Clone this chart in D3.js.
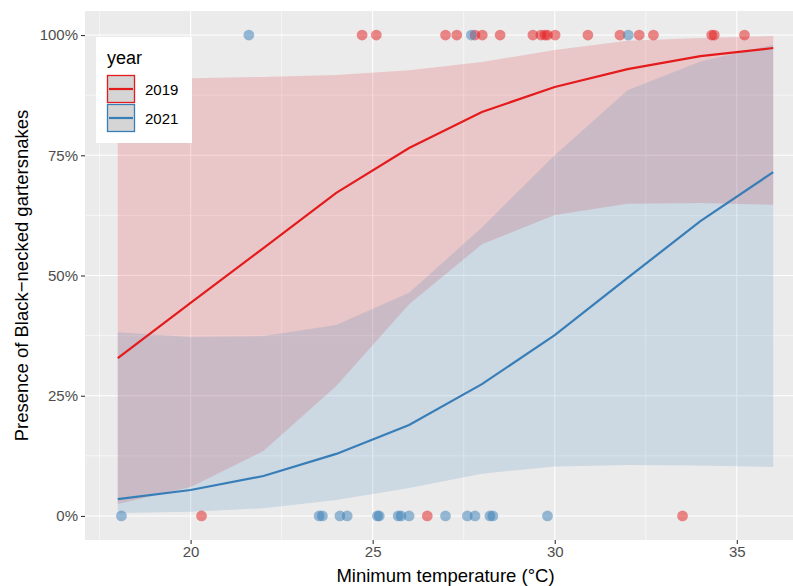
<!DOCTYPE html>
<html>
<head>
<meta charset="utf-8">
<script src="https://cdn.jsdelivr.net/npm/d3@7"></script>
<style>
  html, body { margin: 0; padding: 0; background: #fff; }
  svg { display: block; font-family: "Liberation Sans", Arial, sans-serif; }
</style>
</head>
<body>
<svg id="chart" width="793" height="586"></svg>
<script>
// Fitted curves (probability of presence) at each minimum temperature
const temps = [18, 20, 22, 24, 26, 28, 30, 32, 34, 36];
const fit2019 = [0.328, 0.443, 0.557, 0.672, 0.765, 0.840, 0.892, 0.929, 0.956, 0.973];
const lo2019  = [0.025, 0.060, 0.135, 0.270, 0.440, 0.565, 0.626, 0.649, 0.651, 0.647];
const hi2019  = [0.910, 0.910, 0.913, 0.917, 0.927, 0.944, 0.969, 0.988, 0.994, 0.998];
const fit2021 = [0.035, 0.054, 0.083, 0.129, 0.189, 0.274, 0.376, 0.495, 0.613, 0.715];
const lo2021  = [0.006, 0.009, 0.016, 0.033, 0.058, 0.088, 0.103, 0.106, 0.105, 0.102];
const hi2021  = [0.382, 0.372, 0.374, 0.397, 0.464, 0.600, 0.750, 0.885, 0.945, 0.980];

// Observed surveys: temperature and presence (1) / absence (0)
const obs2019Temp = [24.71, 25.10, 27.00, 27.31, 27.81, 28.01, 28.50, 29.40, 29.62, 29.73, 29.80, 30.01, 30.91, 31.79, 32.32, 32.71, 34.31, 34.38, 35.21, 20.30, 26.50, 33.51];
const obs2019Pres = [1, 1, 1, 1, 1, 1, 1, 1, 1, 1, 1, 1, 1, 1, 1, 1, 1, 1, 1, 0, 0, 0];
const obs2021Temp = [21.60, 27.71, 32.02, 18.10, 23.53, 23.62, 24.10, 24.30, 25.13, 25.18, 25.70, 25.78, 26.00, 27.00, 27.60, 27.81, 28.22, 28.30, 29.80];
const obs2021Pres = [1, 1, 1, 0, 0, 0, 0, 0, 0, 0, 0, 0, 0, 0, 0, 0, 0, 0, 0];

const years = ["2019", "2021"];
const colors = { "2019": "#E41A1C", "2021": "#377EB8" };
const xTicks = [20, 25, 30, 35];
const xMinor = [17.5, 22.5, 27.5, 32.5];
const yTicks = [0, 0.25, 0.5, 0.75, 1];
const yMinor = [0.125, 0.375, 0.625, 0.875];

const svg = d3.select("#chart");
const panel = { left: 85, top: 11, right: 806, bottom: 540 };

const x = d3.scaleLinear().domain([17.1, 36.9]).range([panel.left, panel.right]);
const y = d3.scaleLinear().domain([-0.05, 1.05]).range([panel.bottom, panel.top]);

// panel background
svg.append("rect")
  .attr("x", panel.left).attr("y", panel.top)
  .attr("width", panel.right - panel.left).attr("height", panel.bottom - panel.top)
  .attr("fill", "#EBEBEB");

const grid = svg.append("g");
grid.selectAll("line.ymin").data(yMinor).join("line")
  .attr("x1", panel.left).attr("x2", panel.right)
  .attr("y1", d => y(d)).attr("y2", d => y(d))
  .attr("stroke", "#fff").attr("stroke-width", 0.55);
grid.selectAll("line.xmin").data(xMinor).join("line")
  .attr("y1", panel.top).attr("y2", panel.bottom)
  .attr("x1", d => x(d)).attr("x2", d => x(d))
  .attr("stroke", "#fff").attr("stroke-width", 0.55);
grid.selectAll("line.ymaj").data(yTicks).join("line")
  .attr("x1", panel.left).attr("x2", panel.right)
  .attr("y1", d => y(d)).attr("y2", d => y(d))
  .attr("stroke", "#fff").attr("stroke-width", 1.1);
grid.selectAll("line.xmaj").data(xTicks).join("line")
  .attr("y1", panel.top).attr("y2", panel.bottom)
  .attr("x1", d => x(d)).attr("x2", d => x(d))
  .attr("stroke", "#fff").attr("stroke-width", 1.1);

const series = {
  "2019": { fit: fit2019, lo: lo2019, hi: hi2019, t: obs2019Temp, p: obs2019Pres },
  "2021": { fit: fit2021, lo: lo2021, hi: hi2021, t: obs2021Temp, p: obs2021Pres }
};

const area = d3.area()
  .x(d => x(d.t)).y0(d => y(d.lo)).y1(d => y(d.hi));
const line = d3.line().x(d => x(d.t)).y(d => y(d.v));

// observation points
years.forEach(yr => {
  const s = series[yr];
  const pts = s.t.map((t, i) => ({ t, p: s.p[i] }));
  svg.append("g").selectAll("circle").data(pts).join("circle")
    .attr("cx", d => x(d.t)).attr("cy", d => y(d.p)).attr("r", 5.4)
    .attr("fill", colors[yr]).attr("fill-opacity", 0.5);
});

// confidence ribbons
years.forEach(yr => {
  const s = series[yr];
  const rows = temps.map((t, i) => ({ t, lo: s.lo[i], hi: s.hi[i] }));
  svg.append("path").datum(rows)
    .attr("d", area)
    .attr("fill", colors[yr]).attr("fill-opacity", 0.17);
});

// fitted lines
years.forEach(yr => {
  const s = series[yr];
  const rows = temps.map((t, i) => ({ t, v: s.fit[i] }));
  svg.append("path").datum(rows)
    .attr("d", line)
    .attr("fill", "none").attr("stroke", colors[yr]).attr("stroke-width", 2.2);
});

// axes
const xAxis = svg.append("g")
  .attr("transform", `translate(0,${panel.bottom})`)
  .call(d3.axisBottom(x).tickValues(xTicks).tickSize(4).tickPadding(2));
const yAxis = svg.append("g")
  .attr("transform", `translate(${panel.left},0)`)
  .call(d3.axisLeft(y).tickValues(yTicks).tickSize(4).tickPadding(3)
    .tickFormat(d => Math.round(d * 100) + "%"));
[xAxis, yAxis].forEach(g => {
  g.select(".domain").remove();
  g.selectAll(".tick line").attr("stroke", "#333").attr("stroke-width", 1.1);
  g.selectAll(".tick text").attr("fill", "#4D4D4D")
    .style("font-size", "15px").style("font-family", "Liberation Sans, Arial, sans-serif");
});

// axis titles
svg.append("text")
  .attr("x", (panel.left + panel.right) / 2).attr("y", 582)
  .attr("text-anchor", "middle").attr("fill", "#000")
  .style("font-size", "18.5px")
  .text("Minimum temperature (°C)");
svg.append("text")
  .attr("transform", `translate(28,${(panel.top + panel.bottom) / 2}) rotate(-90)`)
  .attr("text-anchor", "middle").attr("fill", "#000")
  .style("font-size", "18.5px")
  .text("Presence of Black\u2212necked gartersnakes");

// legend
const leg = svg.append("g").attr("transform", "translate(96,37)");
leg.append("rect").attr("width", 96).attr("height", 106).attr("fill", "#fff");
leg.append("text").attr("x", 11).attr("y", 27).style("font-size", "18px").attr("fill", "#000").text("year");
years.forEach((yr, i) => {
  const g = leg.append("g").attr("transform", `translate(11,${38 + i * 29})`);
  g.append("rect").attr("x", 0.5).attr("y", 0.5).attr("width", 27).attr("height", 27)
    .attr("fill", "#D5D5D5").attr("stroke", colors[yr]).attr("stroke-width", 1.3);
  g.append("line").attr("x1", 2).attr("x2", 26).attr("y1", 14).attr("y2", 14)
    .attr("stroke", colors[yr]).attr("stroke-width", 2.2);
  g.append("text").attr("x", 38).attr("y", 19.5).style("font-size", "15px").attr("fill", "#000").text(yr);
});
</script>
</body>
</html>
